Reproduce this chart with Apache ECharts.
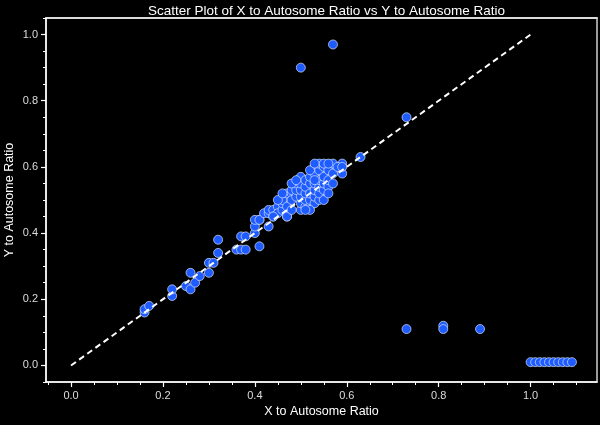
<!DOCTYPE html>
<html>
<head>
<meta charset="utf-8">
<script src="https://cdn.jsdelivr.net/npm/echarts@6/dist/echarts.min.js"></script>
<style>html,body{margin:0;padding:0;background:#000;}#c{width:600px;height:425px;}</style>
</head>
<body>
<div id="c"></div>
<script>
// X to Autosome Ratio values
const xValues = [
  0.57,0.50,0.73,0.63,
  0.73,0.81,0.81,0.89,
  1.00,1.01,1.02,1.03,1.04,1.05,1.06,1.07,1.08,1.09,
  0.16,0.16,0.17,0.22,0.22,0.25,0.26,0.26,0.27,0.28,0.30,0.30,0.31,0.32,0.32,0.36,0.37,0.38,0.37,0.38,0.41,0.40,0.40,0.41,0.43,
  0.40,0.41,0.42,0.43,0.43,0.44,0.44,0.45,0.45,0.46,0.46,0.46,0.47,0.47,0.47,0.48,0.48,0.48,0.49,0.49,0.49,
  0.50,0.50,0.50,0.50,0.50,0.50,0.51,0.51,0.51,0.51,0.51,0.52,0.52,0.52,0.52,0.52,
  0.53,0.53,0.53,0.53,0.53,0.53,0.54,0.54,0.54,0.54,0.54,0.54,0.55,0.55,0.55,0.55,
  0.56,0.56,0.56,0.57,0.57,0.57,0.59,0.59,0.47,0.44,
  0.45,0.46,0.48,0.49,0.52,0.53,0.55,0.56,0.58,0.55,0.56,0.52,0.48,0.51,0.53,0.59
];
// Y to Autosome Ratio values
const yValues = [
  0.97,0.90,0.75,0.63,
  0.11,0.12,0.11,0.11,
  0.01,0.01,0.01,0.01,0.01,0.01,0.01,0.01,0.01,0.01,
  0.16,0.17,0.18,0.21,0.23,0.24,0.23,0.28,0.25,0.27,0.28,0.31,0.31,0.34,0.38,0.35,0.35,0.35,0.39,0.39,0.36,0.40,0.42,0.44,0.42,
  0.44,0.44,0.46,0.46,0.47,0.47,0.45,0.48,0.46,0.47,0.49,0.50,0.45,0.48,0.52,0.52,0.53,0.50,0.51,0.53,0.55,
  0.47,0.49,0.51,0.53,0.55,0.57,0.48,0.50,0.52,0.54,0.56,0.48,0.50,0.52,0.55,0.57,
  0.49,0.51,0.53,0.55,0.58,0.60,0.50,0.52,0.54,0.56,0.59,0.61,0.53,0.55,0.57,0.60,
  0.54,0.56,0.59,0.55,0.58,0.61,0.58,0.61,0.45,0.45,
  0.50,0.52,0.55,0.56,0.59,0.61,0.61,0.61,0.60,0.50,0.52,0.47,0.47,0.47,0.56,0.60
];
// reference diagonal y = x
const refLine = [0, 1];
const xMajorTicks = [0.0, 0.2, 0.4, 0.6, 0.8, 1.0];
const xMinorTicks = [-0.05,0.05,0.1,0.15,0.25,0.3,0.35,0.45,0.5,0.55,0.65,0.7,0.75,0.85,0.9,0.95,1.05,1.1];
const yMajorTicks = [0.0, 0.2, 0.4, 0.6, 0.8, 1.0];
const yMinorTicks = [-0.05,0.05,0.1,0.15,0.25,0.3,0.35,0.45,0.5,0.55,0.65,0.7,0.75,0.85,0.9,0.95,1.05];

const FONT = 'Liberation Sans';
const points = xValues.map((x, i) => [x, yValues[i]]);
const XMIN = -0.0545, XMAX = 1.1445, YMIN = -0.05, YMAX = 1.05;

const chart = echarts.init(document.getElementById('c'), null, {renderer: 'canvas'});
const baseX = {type: 'value', min: XMIN, max: XMAX, splitLine: {show: false}};
const baseY = {type: 'value', min: YMIN, max: YMAX, splitLine: {show: false}};
chart.setOption({
  backgroundColor: '#000',
  animation: false,
  title: {
    text: 'Scatter Plot of X to Autosome Ratio vs Y to Autosome Ratio',
    left: 321.5, top: -1, textAlign: 'center',
    textStyle: {color: '#fff', fontFamily: FONT, fontSize: 13.5, fontWeight: 'normal'}
  },
  grid: {left: 46, right: 3, top: 18, bottom: 43, show: true, borderColor: '#cfcfcf', borderWidth: 1.5,
    backgroundColor: 'transparent', containLabel: false, outerBoundsMode: 'none'},
  xAxis: [
    Object.assign({}, baseX, {
      position: 'bottom',
      name: 'X to Autosome Ratio', nameLocation: 'middle', nameGap: 23, nameMoveOverlap: false,
      nameTextStyle: {color: '#fff', fontFamily: FONT, fontSize: 12.5},
      axisLine: {show: true, onZero: false, lineStyle: {color: '#fff', width: 1.5}},
      axisTick: {show: true, customValues: xMajorTicks, length: 5, lineStyle: {color: '#fff', width: 1.2}},
      axisLabel: {show: true, customValues: xMajorTicks, color: '#ddd', fontFamily: FONT, fontSize: 11, margin: 8,
        formatter: v => Number(v).toFixed(1)}
    }),
    Object.assign({}, baseX, {
      position: 'bottom',
      axisLine: {show: false, onZero: false},
      axisTick: {show: true, customValues: xMinorTicks, length: 3, lineStyle: {color: '#fff', width: 1}},
      axisLabel: {show: false}
    }),
    Object.assign({}, baseX, {
      position: 'top',
      axisLine: {show: true, onZero: false, lineStyle: {color: '#eee', width: 1.5}},
      axisTick: {show: false}, axisLabel: {show: false}
    })
  ],
  yAxis: [
    Object.assign({}, baseY, {
      position: 'left',
      name: 'Y to Autosome Ratio', nameLocation: 'middle', nameGap: 30, nameMoveOverlap: false,
      nameTextStyle: {color: '#fff', fontFamily: FONT, fontSize: 12.5},
      axisLine: {show: true, onZero: false, lineStyle: {color: '#fff', width: 1.5}},
      axisTick: {show: true, customValues: yMajorTicks, length: 5, lineStyle: {color: '#fff', width: 1.2}},
      axisLabel: {show: true, customValues: yMajorTicks, color: '#ddd', fontFamily: FONT, fontSize: 11, margin: 8,
        formatter: v => Number(v).toFixed(1)}
    }),
    Object.assign({}, baseY, {
      position: 'left',
      axisLine: {show: false, onZero: false},
      axisTick: {show: true, customValues: yMinorTicks, length: 3, lineStyle: {color: '#fff', width: 1}},
      axisLabel: {show: false}
    })
  ],
  series: [
    {
      type: 'scatter', xAxisIndex: 0, yAxisIndex: 0,
      data: points, symbolSize: 9,
      itemStyle: {color: '#1f5cff', borderColor: 'rgba(220,230,255,0.85)', borderWidth: 0.8, opacity: 1}
    },
    {
      type: 'line', xAxisIndex: 0, yAxisIndex: 0, z: 5,
      data: refLine.map(v => [v, v]), symbol: 'none',
      lineStyle: {color: '#fff', width: 2, type: [6, 4]}
    }
  ]
});
</script>
</body>
</html>
